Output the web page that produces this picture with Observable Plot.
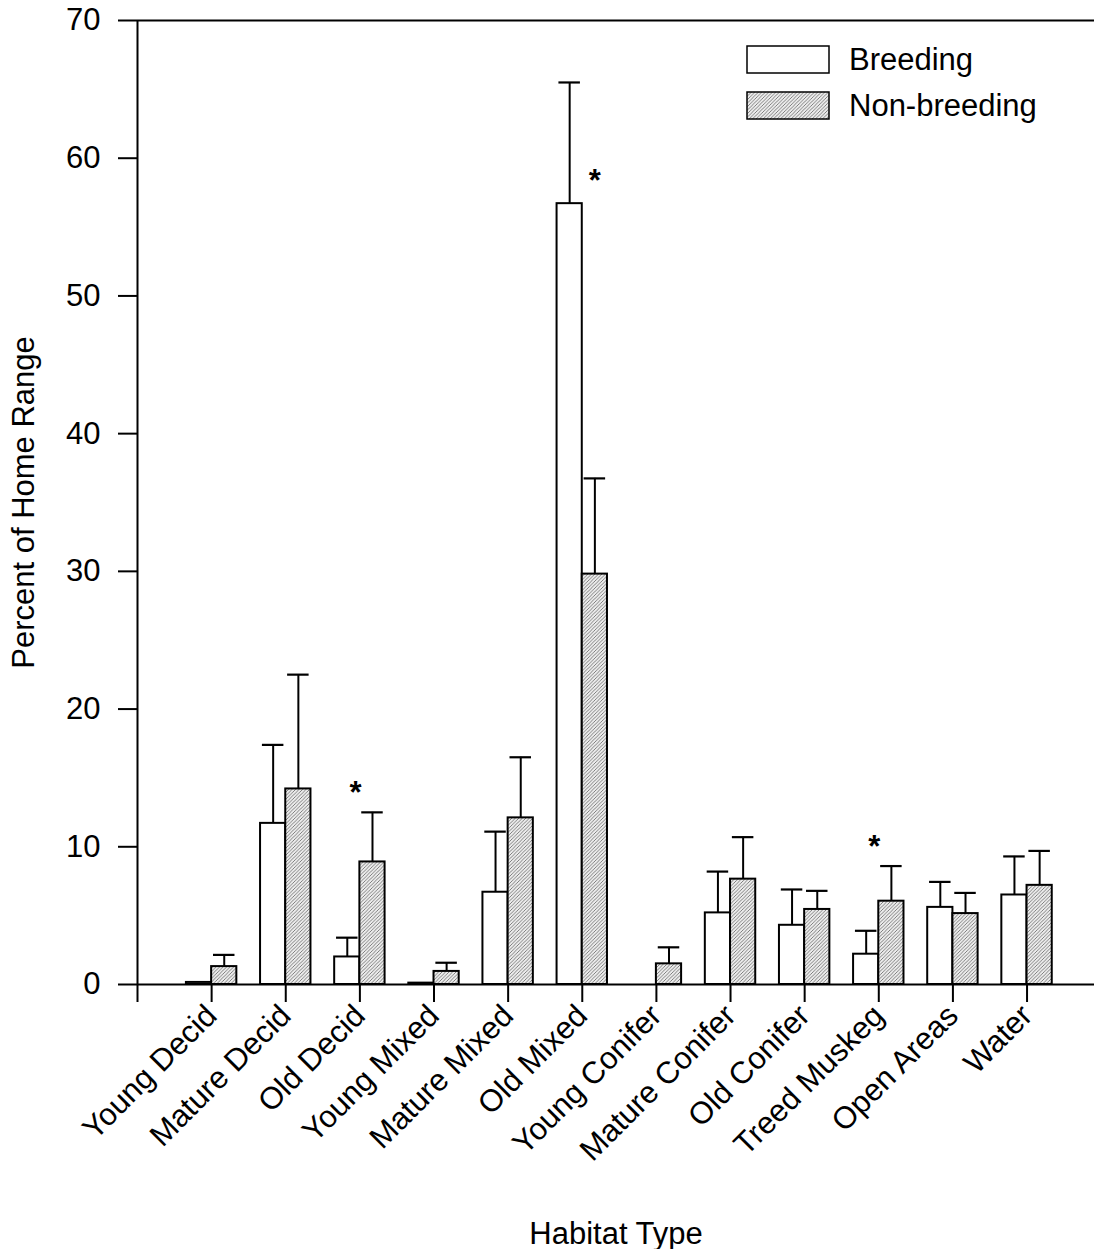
<!DOCTYPE html>
<html>
<head>
<meta charset="utf-8">
<script src="https://cdn.jsdelivr.net/npm/d3@7"></script>
<script src="https://cdn.jsdelivr.net/npm/@observablehq/plot@0.6"></script>
<style>
  body { margin: 0; background: #fff; }
</style>
</head>
<body>
<div id="chart"></div>
<script>
// Habitat composition of home ranges: mean percent (+ SE) by season
const categories = [
  "Young Decid", "Mature Decid", "Old Decid", "Young Mixed", "Mature Mixed", "Old Mixed",
  "Young Conifer", "Mature Conifer", "Old Conifer", "Treed Muskeg", "Open Areas", "Water"
];
const breeding      = [0.15, 11.7, 2.0, 0.1, 6.7, 56.7, 0, 5.2, 4.3, 2.2, 5.6, 6.5];
const breedingSE    = [0, 5.7, 1.4, 0, 4.4, 8.8, 0, 3.0, 2.6, 1.7, 1.85, 2.8];
const nonBreeding   = [1.3, 14.2, 8.9, 0.95, 12.1, 29.8, 1.5, 7.65, 5.45, 6.05, 5.15, 7.2];
const nonBreedingSE = [0.85, 8.3, 3.6, 0.63, 4.4, 6.95, 1.2, 3.05, 1.35, 2.55, 1.5, 2.5];
const seriesNames = ["Breeding", "Non-breeding"];

// Significant seasonal differences
const starCategories = ["Old Decid", "Old Mixed", "Treed Muskeg"];
const starHeights = [14.6, 59.1, 10.7];
const starOver = ["pair", "Non-breeding", "pair"];

const yTicks = [0, 10, 20, 30, 40, 50, 60, 70];

// Layout in x units: category k sits at k + 1; bars flank the tick
const barW = 0.34, capW = 0.29;
const rows = categories.flatMap((c, k) => [
  {cat: c, i: k + 1, series: seriesNames[0], value: breeding[k], se: breedingSE[k]},
  {cat: c, i: k + 1, series: seriesNames[1], value: nonBreeding[k], se: nonBreedingSE[k]}
]);
const left = d => d.series === seriesNames[0] ? d.i - barW : d.i;
const mid = d => left(d) + barW / 2;
const withErr = rows.filter(d => d.se > 0);
const stars = starCategories.map((c, k) => {
  const i = categories.indexOf(c) + 1;
  return {x: starOver[k] === "pair" ? i - 0.06 : i + barW / 2, y: starHeights[k]};
});

const FONT = "'Liberation Sans', Arial, Helvetica, sans-serif";
const FS = 31;

const svg = Plot.plot({
  width: 1094,
  height: 1249,
  marginTop: 20,
  marginLeft: 137,
  marginRight: 0,
  marginBottom: 265,
  style: {fontFamily: FONT, fontSize: FS + "px", color: "#000", background: "#fff"},
  x: {type: "linear", domain: [0, 12.91], axis: null},
  y: {domain: [0, 70], axis: null},
  marks: [
    Plot.rect(rows.filter(d => d.series === seriesNames[0]), {
      x1: left, x2: d => left(d) + barW, y1: 0, y2: "value",
      fill: "#fff", stroke: "#000", strokeWidth: 2
    }),
    Plot.rect(rows.filter(d => d.series === seriesNames[1]), {
      x1: left, x2: d => left(d) + barW, y1: 0, y2: "value",
      fill: "url(#hatch)", stroke: "#000", strokeWidth: 2
    }),
    Plot.ruleX(withErr, {x: mid, y1: "value", y2: d => d.value + d.se, stroke: "#000", strokeWidth: 2}),
    Plot.ruleY(withErr, {
      y: d => d.value + d.se, x1: d => mid(d) - capW / 2, x2: d => mid(d) + capW / 2,
      stroke: "#000", strokeWidth: 2.2
    }),
    Plot.text(stars, {x: "x", y: "y", text: () => "*", fontSize: FS, fontWeight: "bold", dy: 10, fill: "#000"}),
    Plot.axisY({
      ticks: yTicks, tickSize: 19, tickPadding: 18, strokeWidth: 2, fontSize: FS,
      label: "Percent of Home Range", labelAnchor: "center", labelArrow: "none", labelOffset: 126
    }),
    Plot.axisX({
      ticks: d3.range(0, 13), tickFormat: i => i === 0 ? "" : categories[i - 1],
      tickRotate: -45, tickSize: 18, tickPadding: 8, strokeWidth: 2, fontSize: FS,
      label: "Habitat Type", labelAnchor: "center", labelArrow: "none", labelOffset: 259
    }),
    Plot.ruleY([0, 70], {stroke: "#000", strokeWidth: 2}),
    Plot.ruleX([0], {stroke: "#000", strokeWidth: 2})
  ]
});

const root = d3.select(svg);
root.insert("defs", ":first-child").html(`
  <pattern id="hatch" patternUnits="userSpaceOnUse" width="3.5" height="3.5">
    <rect width="3.5" height="3.5" fill="#ececec"></rect>
    <path d="M-1,1 l2,-2 M0,3.5 l3.5,-3.5 M2.5,4.5 l2,-2" stroke="#666" stroke-width="0.8"></path>
  </pattern>`);

// Legend, top right of the frame
const legend = root.append("g")
  .attr("font-family", FONT).attr("font-size", FS).attr("text-anchor", "start");
seriesNames.forEach((name, k) => {
  legend.append("rect")
    .attr("x", 747).attr("y", 46 + 46 * k).attr("width", 82).attr("height", 27)
    .attr("fill", k === 0 ? "#fff" : "url(#hatch)")
    .attr("stroke", "#000").attr("stroke-width", 1.5);
  legend.append("text")
    .attr("x", 849).attr("y", 59.5 + 46 * k).attr("dy", "0.35em")
    .attr("fill", "#000").text(name);
});

document.getElementById("chart").appendChild(svg);
</script>
</body>
</html>
